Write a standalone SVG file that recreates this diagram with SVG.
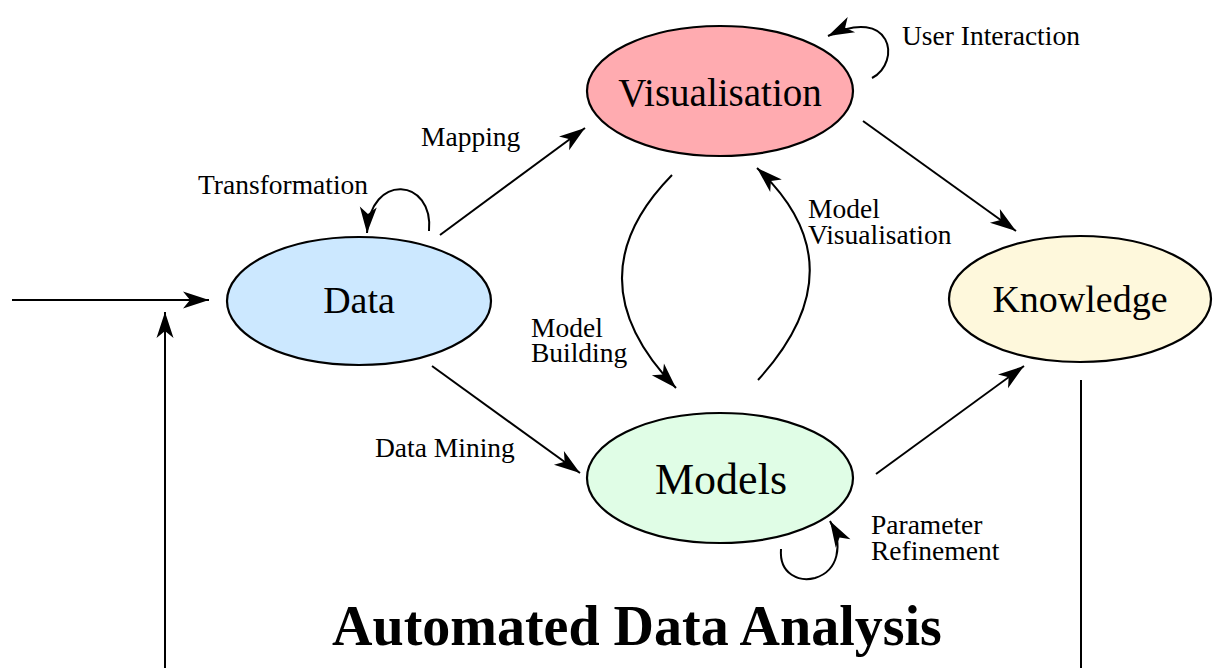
<svg xmlns="http://www.w3.org/2000/svg" width="1213" height="668" viewBox="0 0 1213 668">
  <defs>
    <style>
      .node { stroke: #000; stroke-width: 2.2; }
      .nlabel { font-family: "Liberation Serif", "Times New Roman", serif; font-size: 38px; text-anchor: middle; fill: #000; }
      .elabel { font-family: "Liberation Serif", "Times New Roman", serif; font-size: 27.5px; fill: #000; }
      .title { font-family: "Liberation Serif", "Times New Roman", serif; font-size: 56px; font-weight: bold; text-anchor: middle; fill: #000; }
      .edge { fill: none; stroke: #000; stroke-width: 2; marker-end: url(#arrow); }
      .plain { fill: none; stroke: #000; stroke-width: 2; }
    </style>
    <marker id="arrow" markerUnits="userSpaceOnUse" markerWidth="30" markerHeight="20" viewBox="-27 -10 28 20" refX="0" refY="0" orient="auto">
      <path d="M0,0 L-26,-8.5 L-19,0 L-26,8.5 Z" fill="#000"/>
    </marker>
  </defs>

  <!-- connectors -->
  <g id="connectors">
    <path class="edge" d="M 12 300 L 209 300"/>
    <path class="edge" d="M 165 668 L 165 312"/>
    <path class="plain" d="M 1081 380 L 1081 668"/>
    <path class="edge" d="M 440 235 L 585 128"/>
    <path class="edge" d="M 863 121 L 1016 231"/>
    <path class="edge" d="M 432 366 L 580 473"/>
    <path class="edge" d="M 876 474 L 1024 366"/>
    <path class="edge" d="M 672 175 Q 570 279 676 388"/>
    <path class="edge" d="M 758 380 Q 862 266 757 168"/>
    <path class="edge" d="M 429 231 C 434 178, 370 172, 367 233"/>
    <path class="edge" d="M 872 78 C 902 62, 892 5, 828 36"/>
    <path class="edge" d="M 781 549 C 779 575, 800 582, 815 578 C 838 571, 844 545, 830 521"/>
  </g>

  <g id="node-visualisation">
    <ellipse class="node" cx="720" cy="91" rx="133" ry="65" fill="#ffabb0"/>
    <text class="nlabel" x="720" y="106" style="font-size:39px">Visualisation</text>
  </g>
  <g id="node-data">
    <ellipse class="node" cx="359" cy="301" rx="132" ry="64" fill="#cce8ff"/>
    <text class="nlabel" x="359" y="313">Data</text>
  </g>
  <g id="node-knowledge">
    <ellipse class="node" cx="1080" cy="299" rx="131" ry="63" fill="#fef8dc"/>
    <text class="nlabel" x="1080" y="312">Knowledge</text>
  </g>
  <g id="node-models">
    <ellipse class="node" cx="720" cy="478" rx="133" ry="65" fill="#e0fde6"/>
    <text class="nlabel" x="721" y="494" style="font-size:44px">Models</text>
  </g>

  <g id="labels">
    <text class="elabel" x="902" y="45">User Interaction</text>
    <text class="elabel" x="421" y="146">Mapping</text>
    <text class="elabel" x="198" y="194">Transformation</text>
    <text class="elabel" x="808" y="218">Model</text>
    <text class="elabel" x="808" y="244">Visualisation</text>
    <text class="elabel" x="531" y="337">Model</text>
    <text class="elabel" x="531" y="362">Building</text>
    <text class="elabel" x="375" y="457">Data Mining</text>
    <text class="elabel" x="871" y="534">Parameter</text>
    <text class="elabel" x="871" y="560">Refinement</text>
  </g>

  <text class="title" x="637" y="645">Automated Data Analysis</text>
</svg>
